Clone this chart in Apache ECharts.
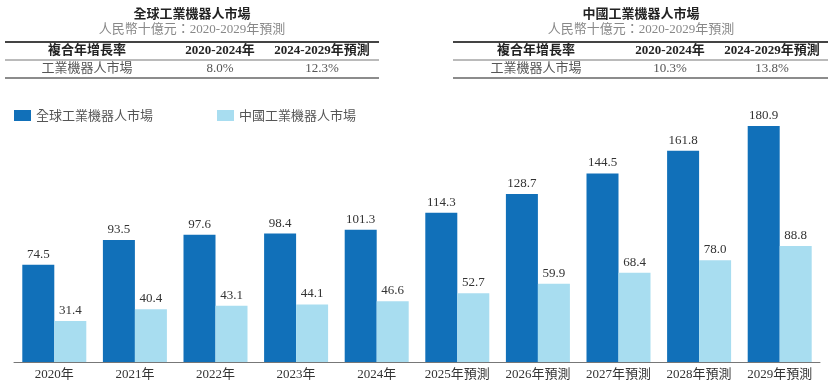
<!DOCTYPE html>
<html><head><meta charset="utf-8">
<script src="https://cdn.jsdelivr.net/npm/echarts@6/dist/echarts.min.js"></script>
<style>html,body{margin:0;padding:0;background:#fff}#c{width:831px;height:382px}</style>
</head><body><div id="c"></div>
<script>
const categories = ['2020年','2021年','2022年','2023年','2024年','2025年預測','2026年預測','2027年預測','2028年預測','2029年預測'];
const globalValues = [74.5, 93.5, 97.6, 98.4, 101.3, 114.3, 128.7, 144.5, 161.8, 180.9];
const chinaValues = [31.4, 40.4, 43.1, 44.1, 46.6, 52.7, 59.9, 68.4, 78.0, 88.8];
const seriesNames = ['全球工業機器人市場', '中國工業機器人市場'];
const tableTitles = ['全球工業機器人市場', '中國工業機器人市場'];
const tableSubtitle = '人民幣十億元：2020-2029年預測';
const tableHeader = ['複合年增長率', '2020-2024年', '2024-2029年預測'];
const tableRowLabel = '工業機器人市場';
const globalCagr = ['8.0%', '12.3%'];
const chinaCagr = ['10.3%', '13.8%'];

const SERIF = '"Liberation Serif","Noto Sans CJK TC",serif';
const SANS = '"Noto Sans CJK TC","Noto Sans",sans-serif';

function table(x0, x1, cx, cols, title, cagr) {
  const els = [];
  els.push({type:'text', style:{text:title, x:cx, y:13, align:'center', verticalAlign:'middle', font:'bold 13px '+SANS, fill:'#222'}});
  els.push({type:'text', style:{text:tableSubtitle, x:cx, y:30, align:'center', verticalAlign:'middle', font:'13px '+SERIF, fill:'#888'}});
  els.push({type:'line', shape:{x1:x0, y1:42, x2:x1, y2:42}, style:{stroke:'#444', lineWidth:1.8}});
  els.push({type:'line', shape:{x1:x0, y1:60, x2:x1, y2:60}, style:{stroke:'#777', lineWidth:1}});
  els.push({type:'line', shape:{x1:x0, y1:78, x2:x1, y2:78}, style:{stroke:'#666', lineWidth:1.5}});
  tableHeader.forEach((h, i) => {
    els.push({type:'text', style:{text:h, x:cols[i], y:51, align:'center', verticalAlign:'middle', font:'bold 13px '+SERIF, fill:'#222'}});
  });
  const row = [tableRowLabel, cagr[0], cagr[1]];
  row.forEach((h, i) => {
    els.push({type:'text', style:{text:h, x:cols[i], y:69, align:'center', verticalAlign:'middle', font:'13px '+SERIF, fill:'#555'}});
  });
  return els;
}

const chart = echarts.init(document.getElementById('c'), null, {renderer:'canvas'});
chart.setOption({
  animation: false,
  backgroundColor: '#fff',
  legend: {
    left: 9, top: 104, itemWidth: 17, itemHeight: 11, itemGap: 64,
    icon: 'rect',
    textStyle: {fontFamily: SANS, fontSize: 13, color: '#555'},
    data: seriesNames
  },
  grid: {left: 14, right: 11, top: 101, bottom: 20},
  xAxis: {
    type: 'category', data: categories,
    axisLine: {lineStyle: {color: '#777', width: 1}},
    axisTick: {show: false},
    axisLabel: {fontFamily: SERIF, fontSize: 13, color: '#333', margin: 6, interval: 0}
  },
  yAxis: {type: 'value', min: 0, max: 200, show: false, splitLine: {show: false}},
  series: [
    {name: seriesNames[0], type: 'bar', data: globalValues, barWidth: 32, barGap: '0%',
     itemStyle: {color: '#1170B9'},
     label: {show: true, position: 'top', distance: 4, fontFamily: SERIF, fontSize: 13, color: '#333', formatter: p => p.value.toFixed(1)}},
    {name: seriesNames[1], type: 'bar', data: chinaValues, barWidth: 32,
     itemStyle: {color: '#A8DDF0'},
     label: {show: true, position: 'top', distance: 4, fontFamily: SERIF, fontSize: 13, color: '#333', formatter: p => p.value.toFixed(1)}}
  ],
  graphic: [].concat(
    table(5, 379, 192, [87, 220, 322], tableTitles[0], globalCagr),
    table(453, 828, 641, [536, 670, 772], tableTitles[1], chinaCagr)
  )
});
</script></body></html>
